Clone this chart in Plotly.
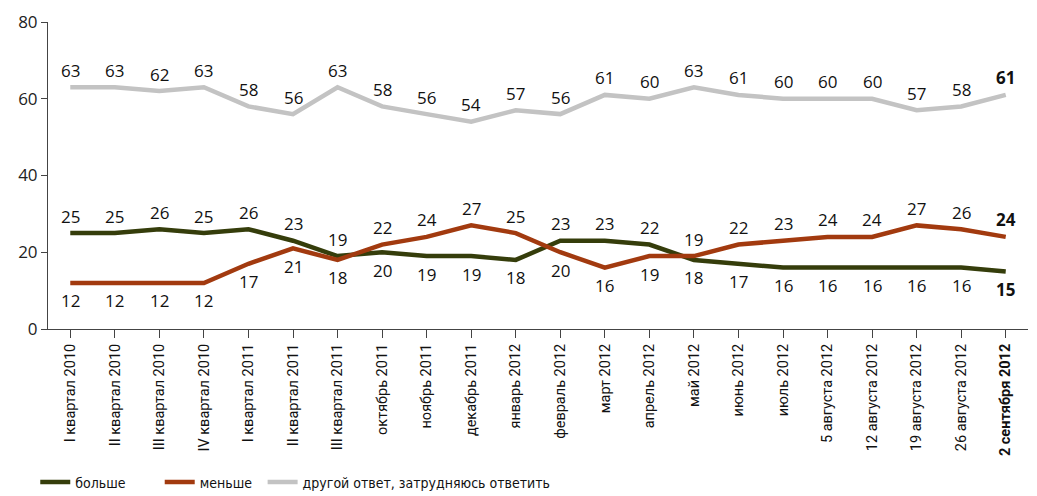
import plotly.graph_objects as go

categories = ["I квартал 2010", "II квартал 2010", "III квартал 2010", "IV квартал 2010",
              "I квартал 2011", "II квартал 2011", "III квартал 2011", "октябрь 2011",
              "ноябрь 2011", "декабрь 2011", "январь 2012", "февраль 2012", "март 2012",
              "апрель 2012", "май 2012", "июнь 2012", "июль 2012", "5 августа 2012",
              "12 августа 2012", "19 августа 2012", "26 августа 2012", "2 сентября 2012"]
more = [25, 25, 26, 25, 26, 23, 19, 20, 19, 19, 18, 23, 23, 22, 18, 17, 16, 16, 16, 16, 16, 15]
less = [12, 12, 12, 12, 17, 21, 18, 22, 24, 27, 25, 20, 16, 19, 19, 22, 23, 24, 24, 27, 26, 24]
other = [63, 63, 62, 63, 58, 56, 63, 58, 56, 54, 57, 56, 61, 60, 63, 61, 60, 60, 60, 57, 58, 61]

names = ["больше", "меньше", "другой ответ, затрудняюсь ответить"]
colors = ["#353d0b", "#a23a0f", "#c3c3c3"]

x = list(range(len(categories)))
n = len(categories)
ticktext = categories[:-1] + ["<b>" + categories[-1] + "</b>"]

fig = go.Figure()
series = [more, less, other]
for i, (vals, name, col) in enumerate(zip(series, names, colors)):
    fig.add_trace(go.Scatter(
        x=x, y=vals, mode="lines", name=name,
        line=dict(color=col, width=4.5),
        legend="legend" if i == 0 else f"legend{i+1}",
        hoverinfo="skip"))

annotations = []
label_font = "Open Sans"
for j in range(n):
    last = (j == n - 1)
    for k, vals in enumerate(series):
        if k == 2:
            up = True
        else:
            otherv = series[1 - k][j]
            up = vals[j] > otherv
        txt = f"<b>{vals[j]}</b>" if last else str(vals[j])
        annotations.append(dict(
            x=x[j], y=vals[j], xref="x", yref="y", text=txt, showarrow=False,
            yshift=17 if up else -18,
            font=dict(family=label_font, size=17, color="#111111")))

fig.update_layout(
    width=1037, height=488,
    margin=dict(l=40, r=17, t=14, b=167, autoexpand=False),
    paper_bgcolor="white", plot_bgcolor="white",
    annotations=annotations,
    showlegend=True,
    font=dict(family="Roboto", color="#222222"),
    xaxis=dict(
        tickmode="array", tickvals=x, ticktext=ticktext,
        range=[-0.5, n - 0.5], tickson="boundaries",
        ticks="outside", ticklen=8, tickcolor="#444444", tickwidth=1,
        showline=True, linecolor="#444444", linewidth=1,
        showgrid=False, zeroline=False, tickangle=-90, automargin=False,
        tickfont=dict(family="Roboto", size=14.5, color="#111111"),
        fixedrange=True),
    yaxis=dict(
        range=[0, 80], tickvals=[0, 20, 40, 60, 80],
        ticks="outside", ticklen=6, tickcolor="#444444",
        showline=True, linecolor="#444444", linewidth=1,
        showgrid=False, zeroline=False, automargin=False,
        tickfont=dict(family=label_font, size=17, color="#222222"),
        fixedrange=True),
)

legend_common = dict(orientation="h", yanchor="middle", y=-0.50, xanchor="left",
                     font=dict(family="DejaVu Sans Condensed", size=14, color="#111111"),
                     bgcolor="rgba(0,0,0,0)", itemwidth=30, tracegroupgap=0)
fig.update_layout(
    legend=dict(x=-0.013, **legend_common),
    legend2=dict(x=0.114, **legend_common),
    legend3=dict(x=0.219, **legend_common),
)

fig.write_html("out.html")
